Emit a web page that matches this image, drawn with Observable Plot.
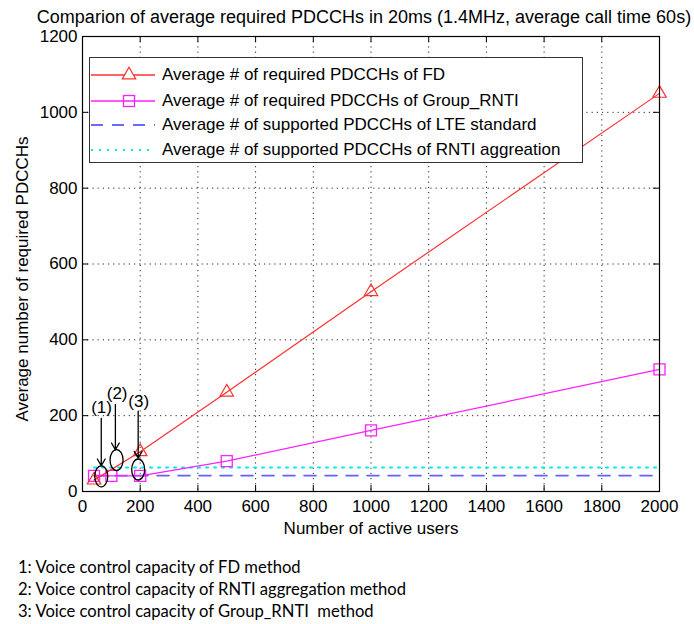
<!DOCTYPE html>
<html><head><meta charset="utf-8">
<script src="https://cdn.jsdelivr.net/npm/d3@7"></script>
<script src="https://cdn.jsdelivr.net/npm/@observablehq/plot@0.6"></script>
<style>
body{margin:0;background:#fff;}
#wrap{position:relative;width:694px;height:624px;font-family:"Liberation Sans",Arial,sans-serif;color:#000;overflow:hidden;}
#chart{position:absolute;left:0;top:0;}
#title{position:absolute;left:364px;top:7px;transform:translateX(-50%);white-space:nowrap;font-size:18px;}
#legend{position:absolute;left:89px;top:57px;width:492px;height:104px;border:1px solid #333;background:#fff;}
.row{position:absolute;left:0;height:24px;display:flex;align-items:center;font-size:17px;white-space:nowrap;}
.row svg{margin-right:6px;}
#caption{position:absolute;left:18px;top:556px;font-family:Lato,"Open Sans",sans-serif;font-size:16.6px;line-height:22px;}
</style></head><body>
<div id="wrap">
  <div id="chart"></div>
  <div id="title"></div>
  <div id="legend"></div>
  <div id="caption"></div>
</div>
<script>
// ---- data ----
const titleText = "Comparion of average required PDCCHs in 20ms (1.4MHz, average call time 60s)";
const xLabel = "Number of active users";
const yLabel = "Average number of required PDCCHs";
const xTicks = [0, 200, 400, 600, 800, 1000, 1200, 1400, 1600, 1800, 2000];
const yTicks = [0, 200, 400, 600, 800, 1000, 1200];

const fdUsers = [40, 200, 500, 1000, 2000];
const fdValues = [30, 105, 262, 527, 1050];
const groupUsers = [40, 100, 200, 500, 1000, 2000];
const groupValues = [41, 41, 41, 80, 161, 322];
const refUsers = [40, 2000];
const lteValues = [42, 42];
const rntiValues = [63, 63];

const seriesNames = [
  "Average # of required PDCCHs of FD",
  "Average # of required PDCCHs of Group_RNTI",
  "Average # of supported PDCCHs of LTE standard",
  "Average # of supported PDCCHs of RNTI aggreation"
];
const seriesColors = ["#ff3030", "#ff20ff", "#3a3aff", "#00e8e8"];

const annLabels = ["(1)", "(2)", "(3)"];
const annTextX = [66, 120, 195];
const annTextY = [222, 258, 236];
const annArrowX = [65, 114, 193];
const annArrowY1 = [193, 230, 212];
const annArrowY2 = [68, 110, 88];
const annEllX = [65, 118, 193];
const annEllY = [40, 83, 58];

const captionLines = [
  "1: Voice control capacity of FD method",
  "2: Voice control capacity of RNTI aggregation method",
  "3: Voice control capacity of Group_RNTI  method"
];

// ---- build tables ----
const fd = fdUsers.map((x, i) => ({x, y: fdValues[i]}));
const grp = groupUsers.map((x, i) => ({x, y: groupValues[i]}));
const lte = refUsers.map((x, i) => ({x, y: lteValues[i]}));
const rnti = refUsers.map((x, i) => ({x, y: rntiValues[i]}));
const ann = annLabels.map((t, i) => ({t, tx: annTextX[i], ty: annTextY[i], ax: annArrowX[i], ay1: annArrowY1[i], ay2: annArrowY2[i], ex: annEllX[i], ey: annEllY[i]}));

const ellipse = {
  draw(context, size) {
    const r = Math.sqrt(size / Math.PI), rx = r * 0.62, ry = r, k = 0.5523;
    context.moveTo(rx, 0);
    context.bezierCurveTo(rx, ry * k, rx * k, ry, 0, ry);
    context.bezierCurveTo(-rx * k, ry, -rx, ry * k, -rx, 0);
    context.bezierCurveTo(-rx, -ry * k, -rx * k, -ry, 0, -ry);
    context.bezierCurveTo(rx * k, -ry, rx, -ry * k, rx, 0);
    context.closePath();
  }
};

const W = 694, H = 545, mL = 82, mR = 35, mT = 36, mB = 54;
const pw = W - mL - mR, ph = H - mT - mB;

const chart = Plot.plot({
  width: W, height: H,
  marginLeft: mL, marginRight: mR, marginTop: mT, marginBottom: mB,
  style: {fontFamily: '"Liberation Sans", Arial, sans-serif', fontSize: "17px", background: "#fff", color: "#000"},
  x: {domain: [0, 2000]},
  y: {domain: [0, 1200]},
  marks: [
    Plot.gridX(xTicks, {stroke: "#000", strokeOpacity: 0.85, strokeDasharray: "1.2,4"}),
    Plot.gridY(yTicks, {stroke: "#000", strokeOpacity: 0.85, strokeDasharray: "1.2,4"}),
    Plot.ruleX(xTicks, {insetTop: ph - 6, stroke: "#000"}),
    Plot.ruleX(xTicks, {insetBottom: ph - 6, stroke: "#000"}),
    Plot.ruleY(yTicks, {insetRight: pw - 6, stroke: "#000"}),
    Plot.ruleY(yTicks, {insetLeft: pw - 6, stroke: "#000"}),
    Plot.axisX({ticks: xTicks, tickSize: 0, tickPadding: 8, fontSize: 17, tickFormat: d3.format("d"), label: xLabel, labelAnchor: "center", labelArrow: "none", labelOffset: 42}),
    Plot.axisY({ticks: yTicks, tickSize: 0, tickPadding: 5, fontSize: 17, tickFormat: d3.format("d"), label: null}),
    Plot.text([yLabel], {frameAnchor: "left", text: d => d, textAnchor: "middle", rotate: -90, dx: -60, dy: 15, fontSize: 17, fill: "#000"}),
    Plot.line(rnti, {x: "x", y: "y", stroke: seriesColors[3], strokeWidth: 2, strokeDasharray: "2,6"}),
    Plot.line(lte, {x: "x", y: "y", stroke: seriesColors[2], strokeWidth: 1.6, strokeOpacity: 0.8, strokeDasharray: "12,9"}),
    Plot.line(grp, {x: "x", y: "y", stroke: seriesColors[1], strokeWidth: 1.2}),
    Plot.dot(grp, {x: "x", y: "y", symbol: "square", r: 6.2, stroke: seriesColors[1], strokeWidth: 1.3, fill: "none"}),
    Plot.line(fd, {x: "x", y: "y", stroke: seriesColors[0], strokeWidth: 1.2}),
    Plot.dot(fd, {x: "x", y: "y", symbol: "triangle", r: 5, stroke: seriesColors[0], strokeWidth: 1.2, fill: "none"}),
    Plot.arrow(ann, {x1: "ax", y1: "ay1", x2: "ax", y2: "ay2", stroke: "#000", strokeWidth: 1.3, headLength: 9, headAngle: 60}),
    Plot.dot(ann, {x: "ex", y: "ey", symbol: ellipse, r: 10.5, stroke: "#000", strokeWidth: 1.3, fill: "none"}),
    Plot.text(ann, {x: "tx", y: "ty", text: "t", fontSize: 17, fill: "#000"}),
    Plot.frame({stroke: "#000", strokeWidth: 1.2})
  ]
});
document.getElementById("chart").appendChild(chart);
document.getElementById("title").textContent = titleText;

// legend
const legend = document.getElementById("legend");
const rowTops = [5, 31, 55, 80];
seriesNames.forEach((name, i) => {
  const row = document.createElement("div");
  row.className = "row";
  row.style.top = rowTops[i] + "px";
  const svg = d3.create("svg").attr("width", 66).attr("height", 24);
  const dash = i === 2 ? "12,9" : i === 3 ? "2,6" : null;
  svg.append("line").attr("x1", 1).attr("x2", 65).attr("y1", 12).attr("y2", 12)
    .attr("stroke", seriesColors[i]).attr("stroke-width", i === 3 ? 2 : 1.4)
    .attr("stroke-dasharray", dash);
  if (i === 0) svg.append("path").attr("d", d3.symbol(d3.symbolTriangle, Math.PI * 25)()).attr("transform", "translate(39,12)").attr("fill", "#fff").attr("stroke", seriesColors[0]).attr("stroke-width", 1.2);
  if (i === 1) svg.append("rect").attr("x", 33.5).attr("y", 6.5).attr("width", 11).attr("height", 11).attr("fill", "none").attr("stroke", seriesColors[1]).attr("stroke-width", 1.3);
  row.appendChild(svg.node());
  const span = document.createElement("span");
  span.textContent = name;
  row.appendChild(span);
  legend.appendChild(row);
});

// caption
const cap = document.getElementById("caption");
captionLines.forEach(t => {
  const d = document.createElement("div");
  d.textContent = t;
  d.style.whiteSpace = "pre";
  cap.appendChild(d);
});
</script>
</body></html>
